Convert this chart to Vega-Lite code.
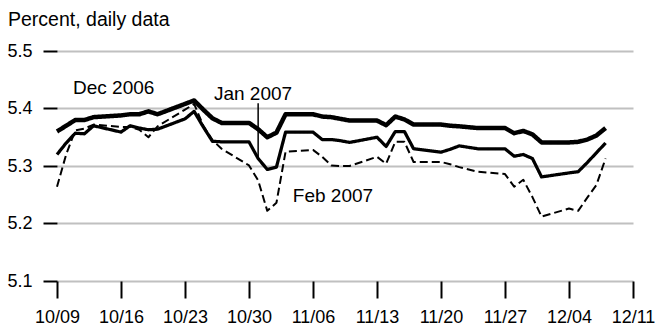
{
  "$schema": "https://vega.github.io/schema/vega-lite/v6.json",
  "autosize": "none",
  "width": 576,
  "height": 230,
  "padding": {"left": 57, "top": 51, "right": 22, "bottom": 46},
  "background": "white",
  "title": {
    "text": "Percent, daily data",
    "anchor": "start",
    "frame": "group",
    "dx": -49,
    "offset": 12,
    "font": "Liberation Sans",
    "fontSize": 19.5,
    "fontWeight": "normal",
    "color": "black"
  },
  "config": {
    "view": {"stroke": null},
    "axis": {"labelFont": "Liberation Sans", "labelFontSize": 18, "labelColor": "black", "title": null}
  },
  "layer": [
    {
      "data": {
        "values": [
          {"date": "2006-10-09T00:00", "series": "Dec 2006", "value": 5.360},
          {"date": "2006-10-10T00:00", "series": "Dec 2006", "value": 5.370},
          {"date": "2006-10-11T00:00", "series": "Dec 2006", "value": 5.380},
          {"date": "2006-10-12T00:00", "series": "Dec 2006", "value": 5.380},
          {"date": "2006-10-13T00:00", "series": "Dec 2006", "value": 5.385},
          {"date": "2006-10-16T00:00", "series": "Dec 2006", "value": 5.388},
          {"date": "2006-10-17T00:00", "series": "Dec 2006", "value": 5.390},
          {"date": "2006-10-18T00:00", "series": "Dec 2006", "value": 5.390},
          {"date": "2006-10-19T00:00", "series": "Dec 2006", "value": 5.395},
          {"date": "2006-10-20T00:00", "series": "Dec 2006", "value": 5.390},
          {"date": "2006-10-23T00:00", "series": "Dec 2006", "value": 5.408},
          {"date": "2006-10-24T00:00", "series": "Dec 2006", "value": 5.414},
          {"date": "2006-10-25T00:00", "series": "Dec 2006", "value": 5.398},
          {"date": "2006-10-26T00:00", "series": "Dec 2006", "value": 5.383},
          {"date": "2006-10-27T00:00", "series": "Dec 2006", "value": 5.375},
          {"date": "2006-10-30T00:00", "series": "Dec 2006", "value": 5.375},
          {"date": "2006-10-31T00:00", "series": "Dec 2006", "value": 5.364},
          {"date": "2006-11-01T00:00", "series": "Dec 2006", "value": 5.350},
          {"date": "2006-11-02T00:00", "series": "Dec 2006", "value": 5.358},
          {"date": "2006-11-03T00:00", "series": "Dec 2006", "value": 5.390},
          {"date": "2006-11-06T00:00", "series": "Dec 2006", "value": 5.390},
          {"date": "2006-11-07T00:00", "series": "Dec 2006", "value": 5.386},
          {"date": "2006-11-08T00:00", "series": "Dec 2006", "value": 5.385},
          {"date": "2006-11-09T00:00", "series": "Dec 2006", "value": 5.382},
          {"date": "2006-11-10T00:00", "series": "Dec 2006", "value": 5.379},
          {"date": "2006-11-13T00:00", "series": "Dec 2006", "value": 5.379},
          {"date": "2006-11-14T00:00", "series": "Dec 2006", "value": 5.371},
          {"date": "2006-11-15T00:00", "series": "Dec 2006", "value": 5.386},
          {"date": "2006-11-16T00:00", "series": "Dec 2006", "value": 5.381},
          {"date": "2006-11-17T00:00", "series": "Dec 2006", "value": 5.372},
          {"date": "2006-11-20T00:00", "series": "Dec 2006", "value": 5.372},
          {"date": "2006-11-21T00:00", "series": "Dec 2006", "value": 5.370},
          {"date": "2006-11-22T00:00", "series": "Dec 2006", "value": 5.369},
          {"date": "2006-11-24T00:00", "series": "Dec 2006", "value": 5.366},
          {"date": "2006-11-27T00:00", "series": "Dec 2006", "value": 5.366},
          {"date": "2006-11-28T00:00", "series": "Dec 2006", "value": 5.357},
          {"date": "2006-11-29T00:00", "series": "Dec 2006", "value": 5.361},
          {"date": "2006-11-30T00:00", "series": "Dec 2006", "value": 5.355},
          {"date": "2006-12-01T00:00", "series": "Dec 2006", "value": 5.341},
          {"date": "2006-12-04T00:00", "series": "Dec 2006", "value": 5.341},
          {"date": "2006-12-05T00:00", "series": "Dec 2006", "value": 5.342},
          {"date": "2006-12-06T00:00", "series": "Dec 2006", "value": 5.346},
          {"date": "2006-12-07T00:00", "series": "Dec 2006", "value": 5.353},
          {"date": "2006-12-08T00:00", "series": "Dec 2006", "value": 5.366},

          {"date": "2006-10-09T00:00", "series": "Jan 2007", "value": 5.320},
          {"date": "2006-10-10T00:00", "series": "Jan 2007", "value": 5.340},
          {"date": "2006-10-11T00:00", "series": "Jan 2007", "value": 5.357},
          {"date": "2006-10-12T00:00", "series": "Jan 2007", "value": 5.356},
          {"date": "2006-10-13T00:00", "series": "Jan 2007", "value": 5.370},
          {"date": "2006-10-16T00:00", "series": "Jan 2007", "value": 5.359},
          {"date": "2006-10-17T00:00", "series": "Jan 2007", "value": 5.370},
          {"date": "2006-10-18T00:00", "series": "Jan 2007", "value": 5.366},
          {"date": "2006-10-19T00:00", "series": "Jan 2007", "value": 5.363},
          {"date": "2006-10-20T00:00", "series": "Jan 2007", "value": 5.364},
          {"date": "2006-10-23T00:00", "series": "Jan 2007", "value": 5.382},
          {"date": "2006-10-24T00:00", "series": "Jan 2007", "value": 5.395},
          {"date": "2006-10-25T00:00", "series": "Jan 2007", "value": 5.368},
          {"date": "2006-10-26T00:00", "series": "Jan 2007", "value": 5.343},
          {"date": "2006-10-27T00:00", "series": "Jan 2007", "value": 5.342},
          {"date": "2006-10-30T00:00", "series": "Jan 2007", "value": 5.342},
          {"date": "2006-10-31T00:00", "series": "Jan 2007", "value": 5.313},
          {"date": "2006-11-01T00:00", "series": "Jan 2007", "value": 5.294},
          {"date": "2006-11-02T00:00", "series": "Jan 2007", "value": 5.298},
          {"date": "2006-11-03T00:00", "series": "Jan 2007", "value": 5.359},
          {"date": "2006-11-06T00:00", "series": "Jan 2007", "value": 5.359},
          {"date": "2006-11-07T00:00", "series": "Jan 2007", "value": 5.346},
          {"date": "2006-11-08T00:00", "series": "Jan 2007", "value": 5.346},
          {"date": "2006-11-09T00:00", "series": "Jan 2007", "value": 5.344},
          {"date": "2006-11-10T00:00", "series": "Jan 2007", "value": 5.341},
          {"date": "2006-11-13T00:00", "series": "Jan 2007", "value": 5.350},
          {"date": "2006-11-14T00:00", "series": "Jan 2007", "value": 5.334},
          {"date": "2006-11-15T00:00", "series": "Jan 2007", "value": 5.360},
          {"date": "2006-11-16T00:00", "series": "Jan 2007", "value": 5.360},
          {"date": "2006-11-17T00:00", "series": "Jan 2007", "value": 5.330},
          {"date": "2006-11-20T00:00", "series": "Jan 2007", "value": 5.324},
          {"date": "2006-11-21T00:00", "series": "Jan 2007", "value": 5.329},
          {"date": "2006-11-22T00:00", "series": "Jan 2007", "value": 5.335},
          {"date": "2006-11-24T00:00", "series": "Jan 2007", "value": 5.330},
          {"date": "2006-11-27T00:00", "series": "Jan 2007", "value": 5.330},
          {"date": "2006-11-28T00:00", "series": "Jan 2007", "value": 5.317},
          {"date": "2006-11-29T00:00", "series": "Jan 2007", "value": 5.320},
          {"date": "2006-11-30T00:00", "series": "Jan 2007", "value": 5.313},
          {"date": "2006-12-01T00:00", "series": "Jan 2007", "value": 5.281},
          {"date": "2006-12-04T00:00", "series": "Jan 2007", "value": 5.288},
          {"date": "2006-12-05T00:00", "series": "Jan 2007", "value": 5.290},
          {"date": "2006-12-06T00:00", "series": "Jan 2007", "value": 5.306},
          {"date": "2006-12-07T00:00", "series": "Jan 2007", "value": 5.323},
          {"date": "2006-12-08T00:00", "series": "Jan 2007", "value": 5.340},

          {"date": "2006-10-09T00:00", "series": "Feb 2007", "value": 5.264},
          {"date": "2006-10-10T00:00", "series": "Feb 2007", "value": 5.320},
          {"date": "2006-10-11T00:00", "series": "Feb 2007", "value": 5.362},
          {"date": "2006-10-12T00:00", "series": "Feb 2007", "value": 5.365},
          {"date": "2006-10-13T00:00", "series": "Feb 2007", "value": 5.372},
          {"date": "2006-10-16T00:00", "series": "Feb 2007", "value": 5.368},
          {"date": "2006-10-17T00:00", "series": "Feb 2007", "value": 5.368},
          {"date": "2006-10-18T00:00", "series": "Feb 2007", "value": 5.363},
          {"date": "2006-10-19T00:00", "series": "Feb 2007", "value": 5.350},
          {"date": "2006-10-20T00:00", "series": "Feb 2007", "value": 5.369},
          {"date": "2006-10-23T00:00", "series": "Feb 2007", "value": 5.398},
          {"date": "2006-10-24T00:00", "series": "Feb 2007", "value": 5.408},
          {"date": "2006-10-25T00:00", "series": "Feb 2007", "value": 5.370},
          {"date": "2006-10-26T00:00", "series": "Feb 2007", "value": 5.345},
          {"date": "2006-10-27T00:00", "series": "Feb 2007", "value": 5.330},
          {"date": "2006-10-30T00:00", "series": "Feb 2007", "value": 5.301},
          {"date": "2006-10-31T00:00", "series": "Feb 2007", "value": 5.275},
          {"date": "2006-11-01T00:00", "series": "Feb 2007", "value": 5.222},
          {"date": "2006-11-02T00:00", "series": "Feb 2007", "value": 5.236},
          {"date": "2006-11-03T00:00", "series": "Feb 2007", "value": 5.325},
          {"date": "2006-11-06T00:00", "series": "Feb 2007", "value": 5.328},
          {"date": "2006-11-07T00:00", "series": "Feb 2007", "value": 5.316},
          {"date": "2006-11-08T00:00", "series": "Feb 2007", "value": 5.301},
          {"date": "2006-11-09T00:00", "series": "Feb 2007", "value": 5.300},
          {"date": "2006-11-10T00:00", "series": "Feb 2007", "value": 5.300},
          {"date": "2006-11-13T00:00", "series": "Feb 2007", "value": 5.316},
          {"date": "2006-11-14T00:00", "series": "Feb 2007", "value": 5.304},
          {"date": "2006-11-15T00:00", "series": "Feb 2007", "value": 5.342},
          {"date": "2006-11-16T00:00", "series": "Feb 2007", "value": 5.342},
          {"date": "2006-11-17T00:00", "series": "Feb 2007", "value": 5.307},
          {"date": "2006-11-20T00:00", "series": "Feb 2007", "value": 5.307},
          {"date": "2006-11-21T00:00", "series": "Feb 2007", "value": 5.303},
          {"date": "2006-11-22T00:00", "series": "Feb 2007", "value": 5.298},
          {"date": "2006-11-24T00:00", "series": "Feb 2007", "value": 5.290},
          {"date": "2006-11-27T00:00", "series": "Feb 2007", "value": 5.286},
          {"date": "2006-11-28T00:00", "series": "Feb 2007", "value": 5.264},
          {"date": "2006-11-29T00:00", "series": "Feb 2007", "value": 5.276},
          {"date": "2006-11-30T00:00", "series": "Feb 2007", "value": 5.246},
          {"date": "2006-12-01T00:00", "series": "Feb 2007", "value": 5.212},
          {"date": "2006-12-04T00:00", "series": "Feb 2007", "value": 5.226},
          {"date": "2006-12-05T00:00", "series": "Feb 2007", "value": 5.222},
          {"date": "2006-12-06T00:00", "series": "Feb 2007", "value": 5.245},
          {"date": "2006-12-07T00:00", "series": "Feb 2007", "value": 5.267},
          {"date": "2006-12-08T00:00", "series": "Feb 2007", "value": 5.313}
        ]
      },
      "mark": {"type": "line", "color": "black", "strokeJoin": "round"},
      "encoding": {
        "x": {
          "field": "date",
          "type": "temporal",
          "scale": {"domain": [{"year": 2006, "month": 10, "date": 9}, {"year": 2006, "month": 12, "date": 11}]},
          "axis": {
            "values": [
              {"year": 2006, "month": 10, "date": 9},
              {"year": 2006, "month": 10, "date": 16},
              {"year": 2006, "month": 10, "date": 23},
              {"year": 2006, "month": 10, "date": 30},
              {"year": 2006, "month": 11, "date": 6},
              {"year": 2006, "month": 11, "date": 13},
              {"year": 2006, "month": 11, "date": 20},
              {"year": 2006, "month": 11, "date": 27},
              {"year": 2006, "month": 12, "date": 4},
              {"year": 2006, "month": 12, "date": 11}
            ],
            "format": "%m/%d",
            "grid": false,
            "domain": false,
            "tickSize": 17,
            "tickWidth": 2,
            "tickColor": "black",
            "labelPadding": 10,
            "labelFlush": false,
            "labelOverlap": false
          }
        },
        "y": {
          "field": "value",
          "type": "quantitative",
          "scale": {"domain": [5.1, 5.5], "zero": false},
          "axis": {
            "values": [5.1, 5.2, 5.3, 5.4, 5.5],
            "format": ".1f",
            "grid": true,
            "gridColor": "#c0c0c0",
            "gridWidth": 2,
            "domain": false,
            "tickSize": 14,
            "tickWidth": 2,
            "tickColor": "black",
            "labelPadding": 11
          }
        },
        "detail": {"field": "series"},
        "strokeWidth": {
          "field": "series",
          "type": "nominal",
          "scale": {"domain": ["Dec 2006", "Jan 2007", "Feb 2007"], "range": [4.5, 2, 2]},
          "legend": null
        },
        "strokeDash": {
          "field": "series",
          "type": "nominal",
          "scale": {"domain": ["Dec 2006", "Jan 2007", "Feb 2007"], "range": [[1, 0], [1, 0], [8, 4]]},
          "legend": null
        }
      }
    },
    {
      "data": {"values": [{"date": "2006-10-31T00:00", "top": 5.409, "bottom": 5.313}]},
      "mark": {"type": "rule", "color": "black", "strokeWidth": 1.5},
      "encoding": {
        "x": {"field": "date", "type": "temporal"},
        "y": {"field": "top", "type": "quantitative"},
        "y2": {"field": "bottom"}
      }
    },
    {
      "data": {
        "values": [
          {"date": "2006-10-10T18:00", "value": 5.4364, "label": "Dec 2006"},
          {"date": "2006-10-26T04:00", "value": 5.426, "label": "Jan 2007"},
          {"date": "2006-11-03T19:00", "value": 5.2475, "label": "Feb 2007"}
        ]
      },
      "mark": {"type": "text", "align": "left", "baseline": "middle", "font": "Liberation Sans", "fontSize": 19, "color": "black"},
      "encoding": {
        "x": {"field": "date", "type": "temporal"},
        "y": {"field": "value", "type": "quantitative"},
        "text": {"field": "label"}
      }
    }
  ]
}
